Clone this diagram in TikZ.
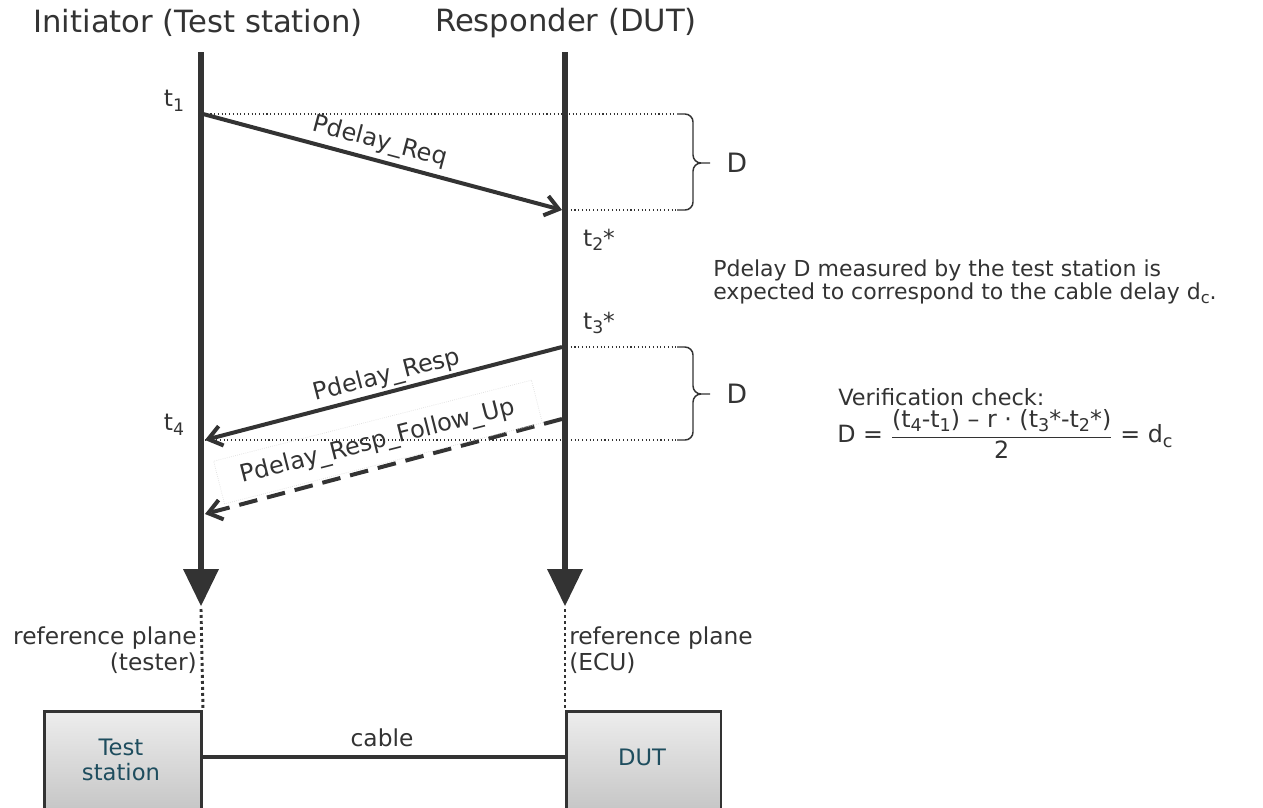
\documentclass[tikz,border=0pt]{standalone}
\usepackage{fontspec}
\usepackage{graphicx}
\setmainfont{DejaVu Sans}
\usetikzlibrary{arrows.meta}
\definecolor{ink}{HTML}{333333}
\definecolor{boxtext}{HTML}{1E4D5E}
\definecolor{faintline}{HTML}{E2E2E2}
\definecolor{boxtop}{HTML}{EDEDED}
\definecolor{boxbottom}{HTML}{C2C2C2}
% lowered small index, as in t1, d_c
\newcommand\lo[1]{\raisebox{-0.35ex}{\scalebox{0.74}{#1}}}
\begin{document}
\begin{tikzpicture}[x=0.75pt,y=-0.75pt,
  every node/.style={text=ink, inner sep=0pt},
  titletext/.style={font=\fontsize{23}{26}\selectfont},
  labeltext/.style={font=\fontsize{17.5}{19.5}\selectfont},
  msgtext/.style={font=\fontsize{18}{20}\selectfont},
  bodytext/.style={font=\fontsize{16.5}{17.5}\selectfont, align=left},
  smalltext/.style={font=\fontsize{16.8}{19}\selectfont},
  formulatext/.style={font=\fontsize{17.8}{20}\selectfont},
  bigD/.style={font=\fontsize{20}{22}\selectfont},
  lifeline/.style={draw=ink, line width=4.5pt},
  lifehead/.style={fill=ink},
  msg/.style={draw=ink, line width=3pt, -{Straight Barb[length=10pt,width=15pt]}},
  msgdash/.style={msg, dash pattern=on 14pt off 7.5pt},
  timeline/.style={draw=ink, line width=0.8pt, dotted},
  bracket/.style={draw=ink, line width=1.1pt},
  refline/.style={draw=ink, line width=2.2pt, dash pattern=on 2.2pt off 2.3pt},
  device/.style={draw=ink, line width=2pt, top color=boxtop, bottom color=boxbottom},
  devtext/.style={text=boxtext, font=\fontsize{17}{19}\selectfont, align=center},
  cableline/.style={draw=ink, line width=3pt}]

\useasboundingbox (0,0) rectangle (1263,807);

% column headings
\node[titletext] (hInit) at (198,23) {Initiator (Test station)};
\node[titletext] (hResp) at (566,23) {Responder (DUT)};

% lifelines with their heads
\coordinate (LA) at (201,52);
\coordinate (LB) at (201,572);
\coordinate (RA) at (565,52);
\coordinate (RB) at (565,572);
\draw[lifeline] (LA) -- (LB);
\draw[lifeline] (RA) -- (RB);
\fill[lifehead] (183,569) -- (219,569) -- (201,606) -- cycle;
\fill[lifehead] (547,569) -- (583,569) -- (565,606) -- cycle;

% time marks
\coordinate (m1) at (203,114);
\coordinate (m1e) at (677,114);
\coordinate (m2) at (562,210);
\coordinate (m2s) at (567,210);
\coordinate (m2e) at (677,210);
\coordinate (m3) at (562,347);
\coordinate (m3s) at (567,347);
\coordinate (m3e) at (677,347);
\coordinate (m4) at (205,440);
\coordinate (m4e) at (677,440);
\coordinate (f3) at (562,419);
\coordinate (f4) at (205,514);

\draw[timeline] (m1) -- (m1e);
\draw[timeline] (m2s) -- (m2e);
\draw[timeline] (m3s) -- (m3e);
\draw[timeline] (m4) -- (m4e);

\node[labeltext] (lt1) at (174,101) {t\lo{1}};
\node[labeltext] (lt2) at (599,240) {t\lo{2}*};
\node[labeltext] (lt3) at (599,323) {t\lo{3}*};
\node[labeltext] (lt4) at (174,425) {t\lo{4}};

% messages
\draw[msg] (m1) -- (m2);
\node[msgtext, rotate=-14.9] (lReq) at (380,142) {Pdelay\_Req};
\draw[msg] (m3) -- (m4);
\node[msgtext, rotate=14.5] (lResp) at (387,376) {Pdelay\_Resp};
\draw[msgdash] (f3) -- (f4);
\node[msgtext, rotate=14.3, draw=faintline, line width=0.6pt, densely dotted,
      minimum width=246pt, minimum height=33pt] (lFup) at (378,442) {Pdelay\_Resp\_Follow\_Up};

% braces
\draw[bracket] (m1e) -- (685,114) to[out=0,in=90] (693,122) -- (693,155)
  to[out=-90,in=180] (701,163) -- (710,163);
\draw[bracket] (m2e) -- (685,210) to[out=0,in=-90] (693,202) -- (693,171)
  to[out=90,in=180] (701,163);
\node[bigD] (D1) at (737,163) {D};
\draw[bracket] (m3e) -- (685,347) to[out=0,in=90] (693,355) -- (693,386)
  to[out=-90,in=180] (701,394) -- (710,394);
\draw[bracket] (m4e) -- (685,440) to[out=0,in=-90] (693,432) -- (693,402)
  to[out=90,in=180] (701,394);
\node[bigD] (D2) at (737,394) {D};

% notes
\node[bodytext, anchor=west] (note) at (713,282)
  {Pdelay D measured by the test station is\\expected to correspond to the cable delay d\lo{c}.};
\node[smalltext, anchor=west] (vcheck) at (838,397) {Verification check:};
\node[formulatext, anchor=west] (formula) at (837,434)
  {D = $\displaystyle\frac{\mbox{(t\lo{4}-t\lo{1}) – r · (t\lo{3}*-t\lo{2}*)}}{\mbox{2}}$ = d\lo{c}};

% reference planes
\coordinate (pL) at (201,609);
\coordinate (pR) at (565,609);
\node[device, minimum width=118pt, minimum height=82pt, anchor=north west] (ts) at (43,710) {};
\node[device, minimum width=116pt, minimum height=82pt, anchor=north west] (dut) at (565,710) {};
\draw[refline] (pL) -- (ts.north east);
\draw[refline] (pR) -- (dut.north west);
\node[labeltext, align=right, anchor=east] (rpL) at (197,650) {reference plane\\(tester)};
\node[labeltext, align=left, anchor=west] (rpR) at (569,650) {reference plane\\(ECU)};

% devices and cable
\node[devtext] (tsText) at (121,760) {Test\\station};
\node[devtext] (dutText) at (642,757) {DUT};
\draw[cableline] (ts.east |- 0,757) -- (dut.west |- 0,757);
\node[labeltext] (lcable) at (382,738) {cable};
\end{tikzpicture}
\end{document}
